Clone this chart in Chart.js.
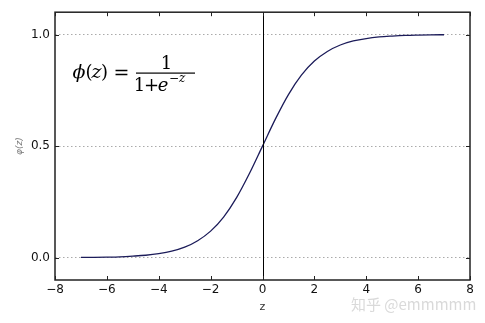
<!DOCTYPE html>
<html>
<head>
<meta charset="utf-8">
<script src="https://cdn.jsdelivr.net/npm/chart.js@4"></script>
<style>
  html,body{margin:0;padding:0;background:#fff;}
  #wrap{width:485px;height:323px;}
</style>
</head>
<body>
<div id="wrap"><canvas id="chart"></canvas></div>
<script>
// sigmoid curve, values
const zValues = [-7,-6.5,-6,-5.5,-5,-4.5,-4,-3.5,-3,-2.5,-2,-1.5,-1,-0.5,0,0.5,1,1.5,2,2.5,3,3.5,4,4.5,5,5.5,6,6.5,7];
const phiValues = [0.001,0.0015,0.0025,0.004,0.007,0.011,0.018,0.029,0.047,0.076,0.119,0.182,0.269,0.378,0.5,0.622,0.731,0.818,0.881,0.924,0.953,0.971,0.982,0.989,0.993,0.996,0.9975,0.9985,0.999];
const xTicks = [-8,-6,-4,-2,0,2,4,6,8];
const yTicks = [0,0.5,1];
const xLabel = "z";
const yLabel = "φ(z)";
const watermark = "知乎 @emmmmm";

const points = zValues.map((z,i)=>({x:z,y:phiValues[i]}));

// glyph helper for the formula
function glyph(ctx,t,cx,base,font,align){
  ctx.font = font;
  ctx.textAlign = align || "center";
  ctx.fillText(t,cx,base);
  return cx + ctx.measureText(t).width;
}

// frame, inward ticks, vertical z=0 line, formula text
const extras = {
  id:"extras",
  afterDatasetsDraw(chart){
    const ctx = chart.ctx;
    const a = chart.chartArea;
    const xs = chart.scales.x, ys = chart.scales.y;
    ctx.save();
    // vertical line at z = 0
    const x0 = xs.getPixelForValue(0);
    ctx.strokeStyle = "#000";
    ctx.lineWidth = 1;
    ctx.beginPath();
    ctx.moveTo(Math.round(x0)+0.5,a.top);
    ctx.lineTo(Math.round(x0)+0.5,a.bottom);
    ctx.stroke();
    // frame
    ctx.strokeStyle = "#222";
    ctx.lineWidth = 1.5;
    ctx.strokeRect(a.left,a.top,a.right-a.left,a.bottom-a.top);
    // ticks pointing inward
    ctx.lineWidth = 1;
    xTicks.forEach(v=>{
      const px = Math.round(xs.getPixelForValue(v))+0.5;
      ctx.beginPath();
      ctx.moveTo(px,a.bottom); ctx.lineTo(px,a.bottom-4);
      ctx.moveTo(px,a.top); ctx.lineTo(px,a.top+4);
      ctx.stroke();
    });
    yTicks.forEach(v=>{
      const py = Math.round(ys.getPixelForValue(v))+0.5;
      ctx.beginPath();
      ctx.moveTo(a.left,py); ctx.lineTo(a.left+4,py);
      ctx.moveTo(a.right,py); ctx.lineTo(a.right-4,py);
      ctx.stroke();
    });
    // formula  phi(z) = 1 / (1 + e^-z)
    ctx.fillStyle = "#000";
    ctx.textBaseline = "alphabetic";
    const it = "italic 19px 'DejaVu Serif'";
    const up = "18px 'DejaVu Serif'";
    glyph(ctx,"ϕ",79,78,it);
    glyph(ctx,"(",89,78,up);
    glyph(ctx,"z",96.5,78,it);
    glyph(ctx,")",104.5,78,up);
    glyph(ctx,"=",121.5,79,"19px 'DejaVu Serif'");
    ctx.fillRect(136,72.5,59,1.2);
    glyph(ctx,"1",166.5,69,up);
    glyph(ctx,"1",139.5,91,up);
    glyph(ctx,"+",151.5,91,up);
    glyph(ctx,"e",163,91,"italic 18px 'DejaVu Serif'");
    let sx = glyph(ctx,"−",169,82,"12px 'DejaVu Serif'","left");
    glyph(ctx,"z",sx,82,"italic 12px 'DejaVu Serif'","left");
    // axis titles
    ctx.font = "11px 'DejaVu Sans'";
    ctx.fillStyle = "#333";
    ctx.textAlign = "center";
    ctx.textBaseline = "middle";
    ctx.fillText(xLabel,xs.getPixelForValue(0),307);
    ctx.save();
    ctx.translate(20,ys.getPixelForValue(0.5));
    ctx.rotate(-Math.PI/2);
    ctx.font = "italic 9px 'DejaVu Sans'";
    ctx.fillStyle = "#777";
    ctx.fillText(yLabel,0,0);
    ctx.restore();
    // watermark
    ctx.font = "15px 'Noto Sans CJK SC'";
    ctx.fillStyle = "rgba(170,170,170,0.45)";
    ctx.textAlign = "left";
    ctx.fillText(watermark,351,304);
    ctx.restore();
  }
};

new Chart(document.getElementById("chart"),{
  type:"scatter",
  data:{
    datasets:[{
      data:points,
      showLine:true,
      borderColor:"#1c1c5a",
      borderWidth:1.3,
      pointRadius:0,
      cubicInterpolationMode:"monotone",
      fill:false
    }]
  },
  options:{
    responsive:true,
    maintainAspectRatio:false,
    animation:false,
    layout:{padding:{left:0,right:15,top:12,bottom:0}},
    plugins:{legend:{display:false},tooltip:{enabled:false}},
    scales:{
      x:{
        type:"linear",
        min:-8,max:8,
        afterBuildTicks:s=>{s.ticks = xTicks.map(v=>({value:v}));},
        afterFit:s=>{s.height = 43;},
        grid:{display:false,drawTicks:false},
        border:{display:false},
        ticks:{
          color:"#111",
          font:{family:"DejaVu Sans",size:12},
          padding:3,
          callback:v=>String(v).replace("-","−")
        }
      },
      y:{
        type:"linear",
        min:-0.1,max:1.1,
        afterBuildTicks:s=>{s.ticks = yTicks.map(v=>({value:v}));},
        afterFit:s=>{s.width = 55;},
        grid:{color:"#aaa",lineWidth:1,drawTicks:false},
        border:{display:false,dash:[1.5,2.5]},
        ticks:{
          color:"#111",
          font:{family:"DejaVu Sans",size:12},
          padding:5,
          callback:v=>Number(v).toFixed(1)
        }
      }
    }
  },
  plugins:[extras]
});
</script>
</body>
</html>
